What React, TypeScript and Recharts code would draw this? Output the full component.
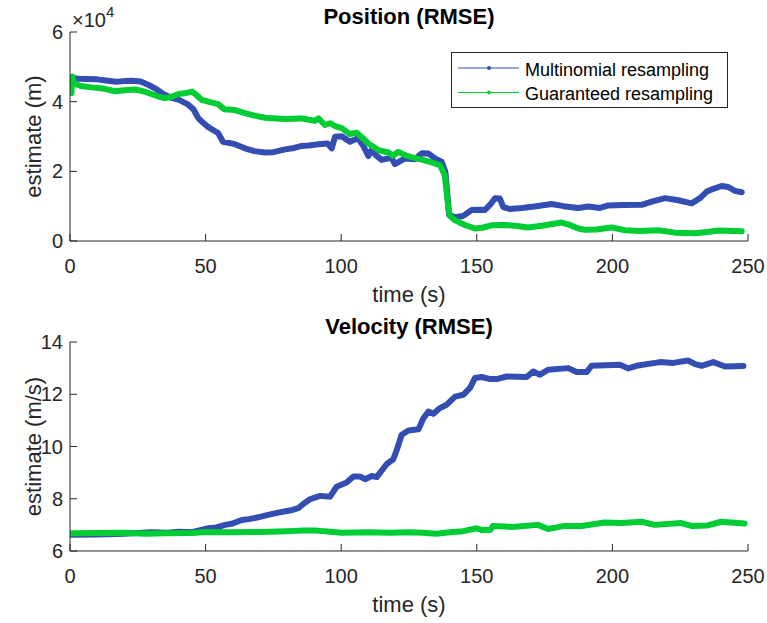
import React from 'react';
import { LineChart, Line, XAxis, YAxis } from 'recharts';

// ---------- data ----------
const xTicks = [0, 50, 100, 150, 200, 250];
const posTicks = [0, 20000, 40000, 60000];
const velTicks = [6, 8, 10, 12, 14];

// Position RMSE (m) – Multinomial resampling
const tPosMulti = [0.6, 3, 6, 10, 14, 17, 20, 23, 26, 29, 32, 34, 37, 40, 43.5, 45.5, 47.3, 49, 51, 54.6, 56.4, 60.8, 64.5, 68, 71.9, 75, 79.3, 82, 85.4, 88, 91.6, 95, 96.5, 97.7, 100.2, 103.2, 106.2, 108, 110, 111.2, 113, 114.9, 118.6, 119.8, 123.5, 127.2, 129.7, 132.2, 134.6, 137, 138.4, 139.3, 139.8, 141.9, 145, 148.1, 151, 153, 155, 156.7, 158.5, 159.8, 162, 166.6, 172, 177.6, 182, 187.4, 191.1, 195.4, 198.5, 204, 210.8, 214.5, 219.4, 224.3, 229.2, 232.3, 234.8, 236.6, 240.3, 242.7, 245.2, 247.7];
const posMulti = [46900, 46600, 46500, 46400, 46000, 45700, 45900, 46000, 45800, 44800, 43500, 42400, 41200, 40600, 39200, 37800, 35300, 34000, 32700, 31000, 28500, 27800, 26600, 25800, 25400, 25500, 26300, 26600, 27300, 27400, 27800, 28000, 26600, 29900, 30100, 28500, 29500, 27500, 24400, 26100, 24500, 23300, 23900, 22100, 23700, 23500, 25200, 25100, 23700, 22800, 19900, 12000, 7500, 6800, 7200, 8900, 9000, 8900, 10500, 12300, 12200, 9700, 9200, 9500, 10000, 10600, 10000, 9500, 9900, 9500, 10200, 10300, 10400, 11300, 12300, 11700, 10800, 12300, 14200, 14800, 15800, 15500, 14400, 14000];

// Position RMSE (m) – Guaranteed resampling
const tPosGuar = [0.5, 0.9, 1.5, 4, 8, 12, 16.6, 20, 24, 27, 30, 33, 35, 37.5, 40, 43, 45, 46.5, 48.6, 51, 54.6, 57, 60.8, 64.5, 68, 71.9, 76, 79.3, 82, 85.4, 88, 90.3, 91.6, 94, 96, 97.7, 100.2, 103.2, 105.7, 108, 110, 113.7, 117.4, 119, 121.1, 124, 127.2, 130, 132.7, 136.4, 138.2, 139, 139.6, 140.1, 141.9, 145.6, 149.3, 152, 155.4, 160, 164, 168.9, 174, 181.2, 184, 187.4, 189.9, 194, 199.7, 204.6, 210, 216.9, 223.1, 230.5, 235, 239.1, 247.7];
const posGuar = [42500, 47200, 45200, 44500, 44100, 43800, 43000, 43300, 43500, 43000, 42200, 41400, 41000, 41400, 42200, 42500, 42900, 42000, 40500, 40000, 39300, 37800, 37600, 36700, 36000, 35400, 35200, 35000, 35100, 35200, 34800, 34500, 35200, 33300, 33800, 33000, 32400, 30700, 31100, 29500, 28000, 26100, 25400, 24500, 25600, 24500, 23800, 23300, 22700, 21800, 18900, 13000, 9000, 7200, 6000, 4600, 3600, 3800, 4500, 4600, 4400, 3900, 4400, 5300, 4700, 3600, 3200, 3300, 3900, 3100, 2900, 3100, 2400, 2200, 2600, 3000, 2800];

// Velocity RMSE (m/s) – Multinomial resampling
const tVelMulti = [0.6, 10, 20, 30, 36, 40, 45, 47.3, 51.1, 54, 57.2, 60, 63.3, 66, 69.4, 73, 76.8, 80, 82, 84.2, 86, 88.5, 92.2, 95.9, 98.3, 102, 104.5, 107, 108.8, 111.3, 113.1, 116.8, 119.2, 120.5, 122.3, 124.8, 128.5, 130.3, 132.2, 134, 136.4, 138.9, 142, 145, 147.5, 149.3, 151.8, 154.9, 157.3, 161, 168.4, 170.8, 173.3, 176.3, 183.7, 186.8, 190.5, 192.3, 202.8, 205.8, 208.9, 217.5, 222.4, 228, 230.5, 232.9, 237.2, 241.5, 248.3];
const velMulti = [6.62, 6.63, 6.66, 6.72, 6.70, 6.74, 6.72, 6.78, 6.87, 6.90, 7.00, 7.05, 7.19, 7.22, 7.29, 7.38, 7.47, 7.53, 7.57, 7.64, 7.80, 7.98, 8.11, 8.08, 8.46, 8.62, 8.85, 8.85, 8.75, 8.87, 8.83, 9.33, 9.51, 9.87, 10.45, 10.61, 10.66, 11.08, 11.34, 11.25, 11.47, 11.60, 11.91, 11.98, 12.24, 12.62, 12.66, 12.58, 12.58, 12.68, 12.66, 12.87, 12.75, 12.94, 13.00, 12.85, 12.85, 13.09, 13.13, 12.99, 13.09, 13.23, 13.20, 13.29, 13.15, 13.09, 13.23, 13.06, 13.08];

// Velocity RMSE (m/s) – Guaranteed resampling
const tVelGuar = [0.6, 10, 20, 28, 35, 45, 50, 60, 70, 80, 85, 91, 95, 100, 110, 118, 125, 130, 135, 140, 145, 149.9, 152, 155, 155.9, 163, 172.5, 176.3, 182.4, 188.6, 197.2, 203.3, 210.7, 215.6, 225.4, 229.1, 235.2, 240.1, 248.7];
const velGuar = [6.68, 6.69, 6.70, 6.66, 6.68, 6.69, 6.73, 6.72, 6.73, 6.76, 6.78, 6.78, 6.75, 6.70, 6.72, 6.70, 6.72, 6.70, 6.66, 6.72, 6.76, 6.87, 6.80, 6.80, 6.96, 6.92, 7.00, 6.84, 6.96, 6.96, 7.09, 7.07, 7.12, 7.00, 7.07, 6.96, 6.98, 7.12, 7.05];

const seriesNames = ['Multinomial resampling', 'Guaranteed resampling'];

// ---------- styles ----------
const FONT = '"Liberation Sans", Arial, Helvetica, sans-serif';
const AX = '#262626';
const BLUE = '#334DB3';
const GREEN = '#00CC33';

const toRows = (t: number[], v: number[]) => t.map((x, i) => ({ t: x, v: v[i] }));

const XTick = (props: any) => {
  const { x, y, payload } = props;
  return (
    <g>
      <line x1={x} x2={x} y1={y} y2={y - 7} stroke={AX} strokeWidth={1} />
      <text x={x} y={y + 32} textAnchor="middle" fontSize={20} fill={AX} fontFamily={FONT}>
        {payload.value}
      </text>
    </g>
  );
};

const makeYTick = (fmt: (v: number) => string) => (props: any) => {
  const { x, y, payload } = props;
  return (
    <g>
      <line x1={x} x2={x + 7} y1={y} y2={y} stroke={AX} strokeWidth={1} />
      <text x={x - 7} y={y + 7} textAnchor="end" fontSize={20} fill={AX} fontFamily={FONT}>
        {fmt(payload.value)}
      </text>
    </g>
  );
};

const posTick = makeYTick((v) => String(v / 10000));
const velTick = makeYTick((v) => String(v));

const margin = { top: 32, right: 19, bottom: 29, left: 0 };

function Panel(props: {
  domain: [number, number];
  ticks: number[];
  tick: any;
  a: { t: number; v: number }[];
  b: { t: number; v: number }[];
}) {
  return (
    <LineChart width={767} height={310} margin={margin}>
      <XAxis
        type="number"
        dataKey="t"
        domain={[0, 250]}
        ticks={xTicks}
        interval={0}
        allowDataOverflow
        height={40}
        tickSize={0}
        tickMargin={0}
        tickLine={false}
        tick={XTick}
        axisLine={{ stroke: AX, strokeWidth: 1 }}
      />
      <YAxis
        type="number"
        dataKey="v"
        domain={props.domain}
        ticks={props.ticks}
        interval={0}
        allowDataOverflow
        width={70}
        tickSize={0}
        tickMargin={0}
        tickLine={false}
        tick={props.tick}
        axisLine={{ stroke: AX, strokeWidth: 1 }}
      />
      <Line
        data={props.a}
        dataKey="v"
        name={seriesNames[0]}
        type="linear"
        stroke={BLUE}
        strokeWidth={6}
        strokeLinejoin="round"
        strokeLinecap="round"
        dot={false}
        isAnimationActive={false}
      />
      <Line
        data={props.b}
        dataKey="v"
        name={seriesNames[1]}
        type="linear"
        stroke={GREEN}
        strokeWidth={6}
        strokeLinejoin="round"
        strokeLinecap="round"
        dot={false}
        isAnimationActive={false}
      />
    </LineChart>
  );
}

export default function App() {
  const posA = toRows(tPosMulti, posMulti);
  const posB = toRows(tPosGuar, posGuar);
  const velA = toRows(tVelMulti, velMulti);
  const velB = toRows(tVelGuar, velGuar);
  return (
    <div style={{ position: 'absolute', left: 0, top: 0, width: 767, height: 623, background: '#fff', fontFamily: FONT }}>
      <div style={{ position: 'absolute', left: 0, top: 0 }}>
        <Panel domain={[0, 60000]} ticks={posTicks} tick={posTick} a={posA} b={posB} />
      </div>
      <div style={{ position: 'absolute', left: 0, top: 310 }}>
        <Panel domain={[6, 14]} ticks={velTicks} tick={velTick} a={velA} b={velB} />
      </div>
      <svg width={767} height={623} style={{ position: 'absolute', left: 0, top: 0, pointerEvents: 'none' }} fontFamily={FONT}>
        {/* titles */}
        <text x={409} y={24} textAnchor="middle" fontSize={22} fontWeight="bold" fill="#000">Position (RMSE)</text>
        <text x={409} y={334} textAnchor="middle" fontSize={22} fontWeight="bold" fill="#000">Velocity (RMSE)</text>
        {/* x labels */}
        <text x={409} y={302} textAnchor="middle" fontSize={22} fill={AX}>time (s)</text>
        <text x={409} y={612} textAnchor="middle" fontSize={22} fill={AX}>time (s)</text>
        {/* y labels */}
        <text transform="translate(41,136.5) rotate(-90)" textAnchor="middle" fontSize={22} fill={AX}>estimate (m)</text>
        <text transform="translate(41,446.5) rotate(-90)" textAnchor="middle" fontSize={22} fill={AX}>estimate (m/s)</text>
        {/* exponent */}
        <text x={72} y={27} fontSize={20} fill={AX}>
          ×10<tspan dy={-10} fontSize={15}>4</tspan>
        </text>
        {/* legend */}
        <rect x={451.5} y={52.5} width={276} height={55} fill="#fff" stroke={AX} strokeWidth={1} />
        <line x1={458} x2={519} y1={68} y2={68} stroke={BLUE} strokeWidth={1} />
        <circle cx={489} cy={68} r={2} fill={BLUE} />
        <text x={525} y={76} fontSize={18} fill="#000">{seriesNames[0]}</text>
        <line x1={458} x2={519} y1={92.5} y2={92.5} stroke={GREEN} strokeWidth={1} />
        <circle cx={489} cy={92.5} r={2} fill={GREEN} />
        <text x={525} y={100} fontSize={18} fill="#000">{seriesNames[1]}</text>
      </svg>
    </div>
  );
}
